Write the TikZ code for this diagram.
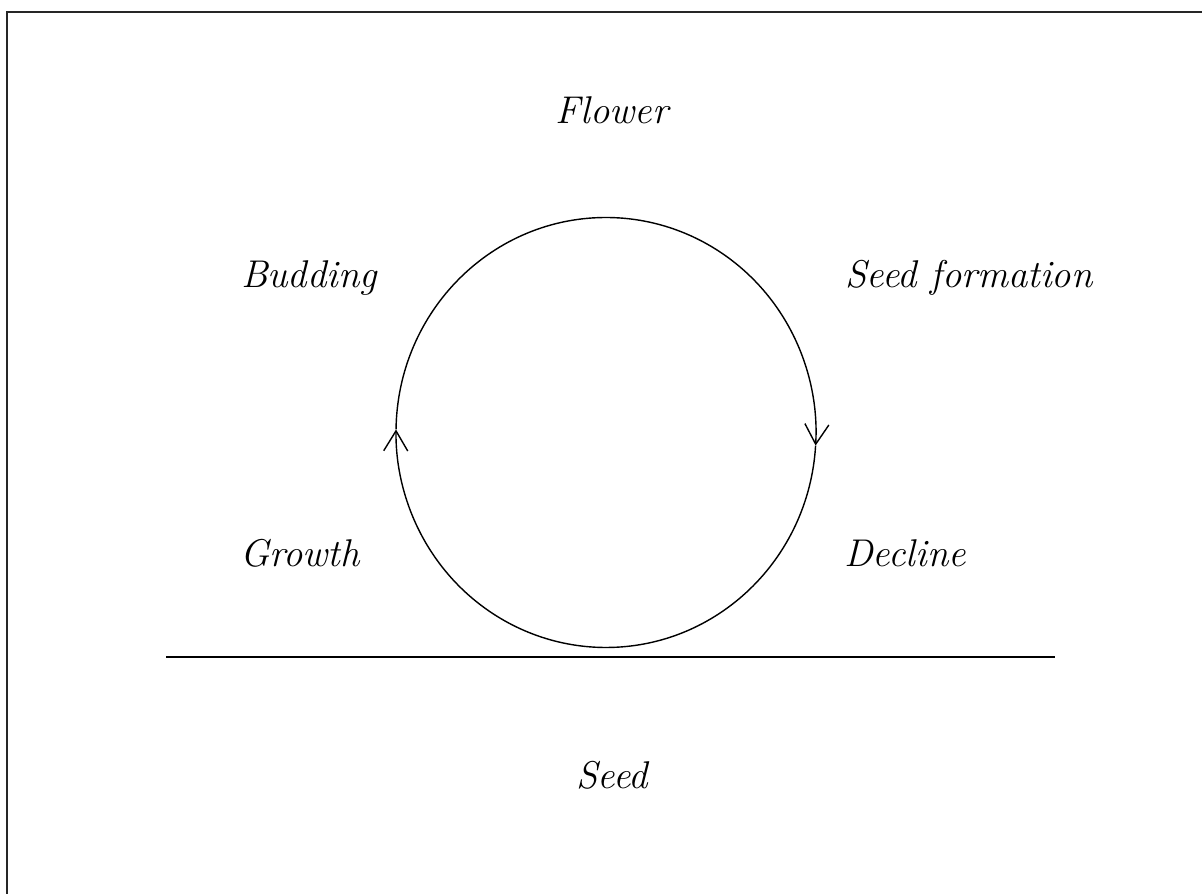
\documentclass[tikz,border=0pt]{standalone}
\usepackage{tikz}
\usetikzlibrary{arrows.meta}

\begin{document}
\begin{tikzpicture}[x=0.01cm, y=0.01cm, every node/.style={font=\fontsize{11}{13}\selectfont\itshape}, >={Straight Barb[length=2mm, width=2.4mm]}]
	\useasboundingbox (0,0) rectangle (1202,894);
	\fill[white] (0,0) rectangle (1202,894);
	\draw[line width=0.8pt, black!85] (7,-20) -- (7,882) -- (1220,882);
	\draw[line width=0.5pt] (166,237) -- (1055,237);
	\coordinate (hub) at (606,461.5);
	\draw[line width=0.4pt, ->] (hub) ++(-90:210 and 215) arc[start angle=-90, end angle=-180.8, x radius=210, y radius=215];
	\draw[line width=0.4pt, ->] (hub) ++(-180.8:210 and 215) arc[start angle=-180.8, end angle=-363.5, x radius=210, y radius=215];
	\draw[line width=0.4pt] (hub) ++(-363.5:210 and 215) arc[start angle=-363.5, end angle=-450, x radius=210, y radius=215];
	\node (flower) at (612,784) {Flower};
	\node (budding) at (309,616) {Budding};
	\node (seedform) at (969,616) {Seed formation};
	\node (growth) at (300,341) {Growth};
	\node (decline) at (905,341) {Decline};
	\node (seed) at (612,119) {Seed};
\end{tikzpicture}
\end{document}
